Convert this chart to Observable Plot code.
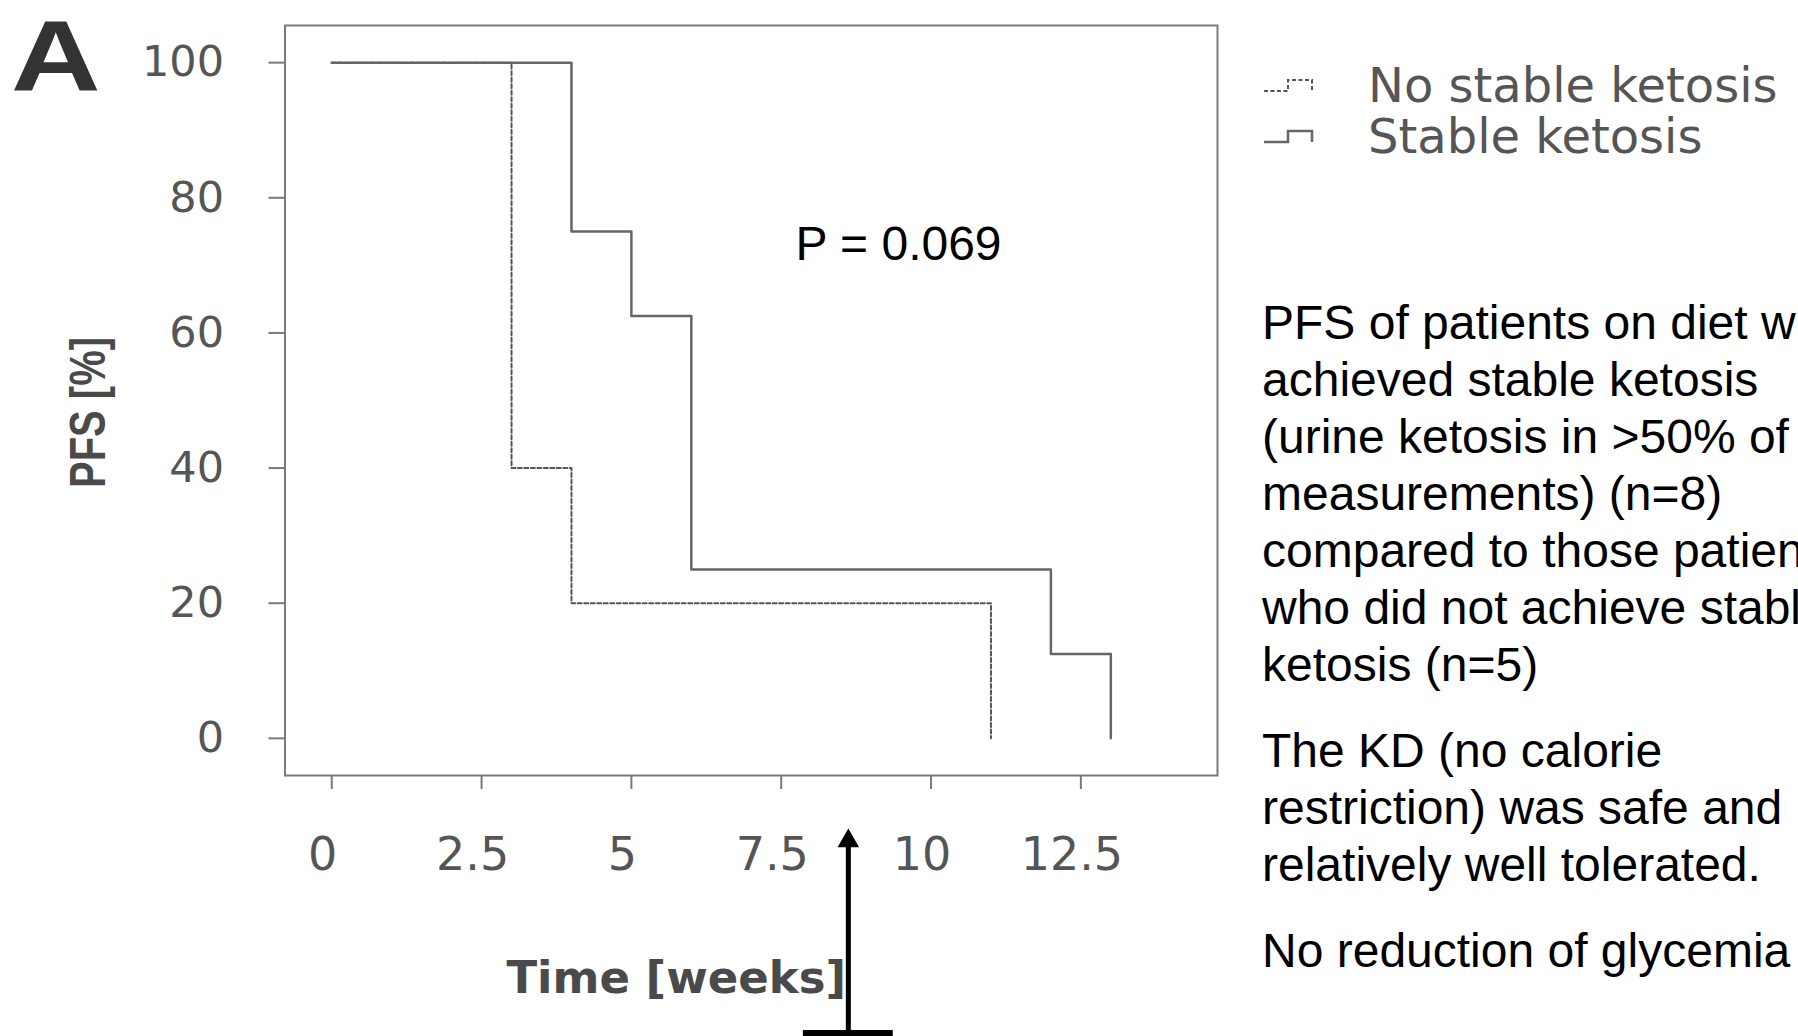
<!DOCTYPE html>
<html>
<head>
<meta charset="utf-8">
<script src="https://cdn.jsdelivr.net/npm/d3@7"></script>
<script src="https://cdn.jsdelivr.net/npm/@observablehq/plot@0.6"></script>
<style>
html, body { margin: 0; padding: 0; background: #fff; overflow: hidden; width: 1798px; height: 1036px; }
#wrap { position: relative; width: 1798px; height: 1036px; overflow: hidden; }
#panel { position: absolute; left: 11px; top: 0px; font: bold 100px "Liberation Sans", Arial, sans-serif; line-height: 112px; color: #333; transform: scaleX(1.24); transform-origin: left top; }
#legend { position: absolute; left: 1264px; top: 60px; font: 48px "DejaVu Sans", sans-serif; color: #555; line-height: 51px; white-space: nowrap; }
#legend .row { display: flex; align-items: center; height: 51px; }
#legend svg { width: 56px; height: 20px; margin-right: 48px; }
#notes { position: absolute; left: 1262px; top: 294px; font: 48px "Liberation Sans", Arial, sans-serif; color: #000; line-height: 57px; white-space: nowrap; }
#notes p { margin: 0 0 29px 0; }
</style>
</head>
<body>
<div id="wrap"></div>
<script>
// ---- data ----
const groupNames = ["No stable ketosis", "Stable ketosis"];
const stableTimes = [0, 4, 5, 6, 12, 13];
const stablePFS = [100, 75, 62.5, 25, 12.5, 0];
const noStableTimes = [0, 3, 4, 11];
const noStablePFS = [100, 40, 20, 0];
const xTicks = [0, 2.5, 5, 7.5, 10, 12.5];
const yTicks = [0, 20, 40, 60, 80, 100];
const xTitle = "Time [weeks]";
const yTitle = "PFS [%]";
const panelLetter = "A";
const pValueText = ["P = 0.069"];
const pValuePos = [{time: 7.74, pfs: 73}];
const arrowShaft = [{time: 8.62, from: -43.9, to: -15.5}];
const arrowHead = [{time: 8.62, pfs: -15.2}];
const arrowBase = [{from: 7.87, to: 9.37, pfs: -43.6}];
const noteParagraphs = [
  ["PFS of patients on diet who", "achieved stable ketosis", "(urine ketosis in >50% of", "measurements) (n=8)", "compared to those patients", "who did not achieve stable", "ketosis (n=5)"],
  ["The KD (no calorie", "restriction) was safe and", "relatively well tolerated."],
  ["No reduction of glycemia"]
];

const stableRows = stableTimes.map((t, i) => ({group: groupNames[1], time: t, pfs: stablePFS[i]}));
const noStableRows = noStableTimes.map((t, i) => ({group: groupNames[0], time: t, pfs: noStablePFS[i]}));

const axisGray = "#7a7a7a";

const chart = Plot.plot({
  width: 1798,
  height: 1036,
  marginLeft: 284.5,
  marginRight: 581,
  marginTop: 25,
  marginBottom: 261,
  x: {domain: [-0.78, 14.78]},
  y: {domain: [-5.5, 105.5]},
  style: {background: "white", overflow: "visible"},
  marks: [
    Plot.frame({stroke: axisGray, strokeWidth: 2}),
    Plot.axisY({ticks: yTicks, tickSize: 16, tickPadding: 45, stroke: axisGray, strokeWidth: 2, fill: "#555", fontSize: 43, fontFamily: "DejaVu Sans", label: null}),
    Plot.axisX({ticks: xTicks, tickSize: 14, stroke: axisGray, strokeWidth: 2, tickFormat: () => "", label: null}),
    Plot.axisX({ticks: xTicks, tickSize: 0, tickPadding: 62, dx: -9, fill: "#555", fontSize: 46, fontFamily: "DejaVu Sans", tickFormat: d => String(d), label: null}),
    Plot.text([yTitle], {frameAnchor: "left", textAnchor: "middle", lineAnchor: "middle", dx: -196, dy: 12, rotate: -90, fontSize: 50, fontWeight: "bold", fontFamily: "Liberation Sans", fill: "#4a4a4a"}),
    Plot.text([xTitle], {frameAnchor: "bottom", textAnchor: "middle", lineAnchor: "middle", dx: -75, dy: 203, fontSize: 45, fontWeight: "bold", fontFamily: "DejaVu Sans", fill: "#4a4a4a"}),
    Plot.line(noStableRows, {x: "time", y: "pfs", curve: "step-after", stroke: "#555", strokeWidth: 2, strokeDasharray: "4,2.5"}),
    Plot.line(stableRows, {x: "time", y: "pfs", curve: "step-after", stroke: "#666", strokeWidth: 2.5}),
    Plot.text(pValuePos, {x: "time", y: "pfs", text: (d, i) => pValueText[i], textAnchor: "start", fontSize: 48, fontFamily: "Liberation Sans", fill: "#000"}),
    Plot.ruleX(arrowShaft, {x: "time", y1: "from", y2: "to", stroke: "#000", strokeWidth: 5}),
    Plot.dot(arrowHead, {x: "time", y: "pfs", symbol: "triangle", r: 8, fill: "#000", stroke: null}),
    Plot.ruleY(arrowBase, {y: "pfs", x1: "from", x2: "to", stroke: "#000", strokeWidth: 6})
  ]
});

// compress the rotated y title along its reading direction, as in the reference
d3.select(chart).selectAll("text").filter(function() { return this.textContent === yTitle; })
  .attr("transform", function() { return (this.getAttribute("transform") || "") + " scale(0.8,1)"; });

const wrap = document.getElementById("wrap");
wrap.appendChild(chart);

const panel = document.createElement("div");
panel.id = "panel";
panel.textContent = panelLetter;
wrap.appendChild(panel);

// legend
const legend = d3.select(wrap).append("div").attr("id", "legend");
const swatch = [[0, 15], [24, 15], [24, 4], [48, 4], [48, 15]];
groupNames.forEach((name, i) => {
  const row = legend.append("div").attr("class", "row");
  const svg = row.append("svg").attr("viewBox", "0 0 56 20");
  svg.append("path")
    .attr("d", d3.line()(swatch))
    .attr("fill", "none")
    .attr("stroke", i === 0 ? "#555" : "#666")
    .attr("stroke-width", i === 0 ? 2 : 2.5)
    .attr("stroke-dasharray", i === 0 ? "4,2.5" : null);
  row.append("span").text(name);
});

// side notes
const notes = d3.select(wrap).append("div").attr("id", "notes");
noteParagraphs.forEach(lines => {
  const p = notes.append("p");
  lines.forEach((l, j) => {
    if (j) p.append("br");
    p.append("span").text(l);
  });
});
</script>
</body>
</html>
